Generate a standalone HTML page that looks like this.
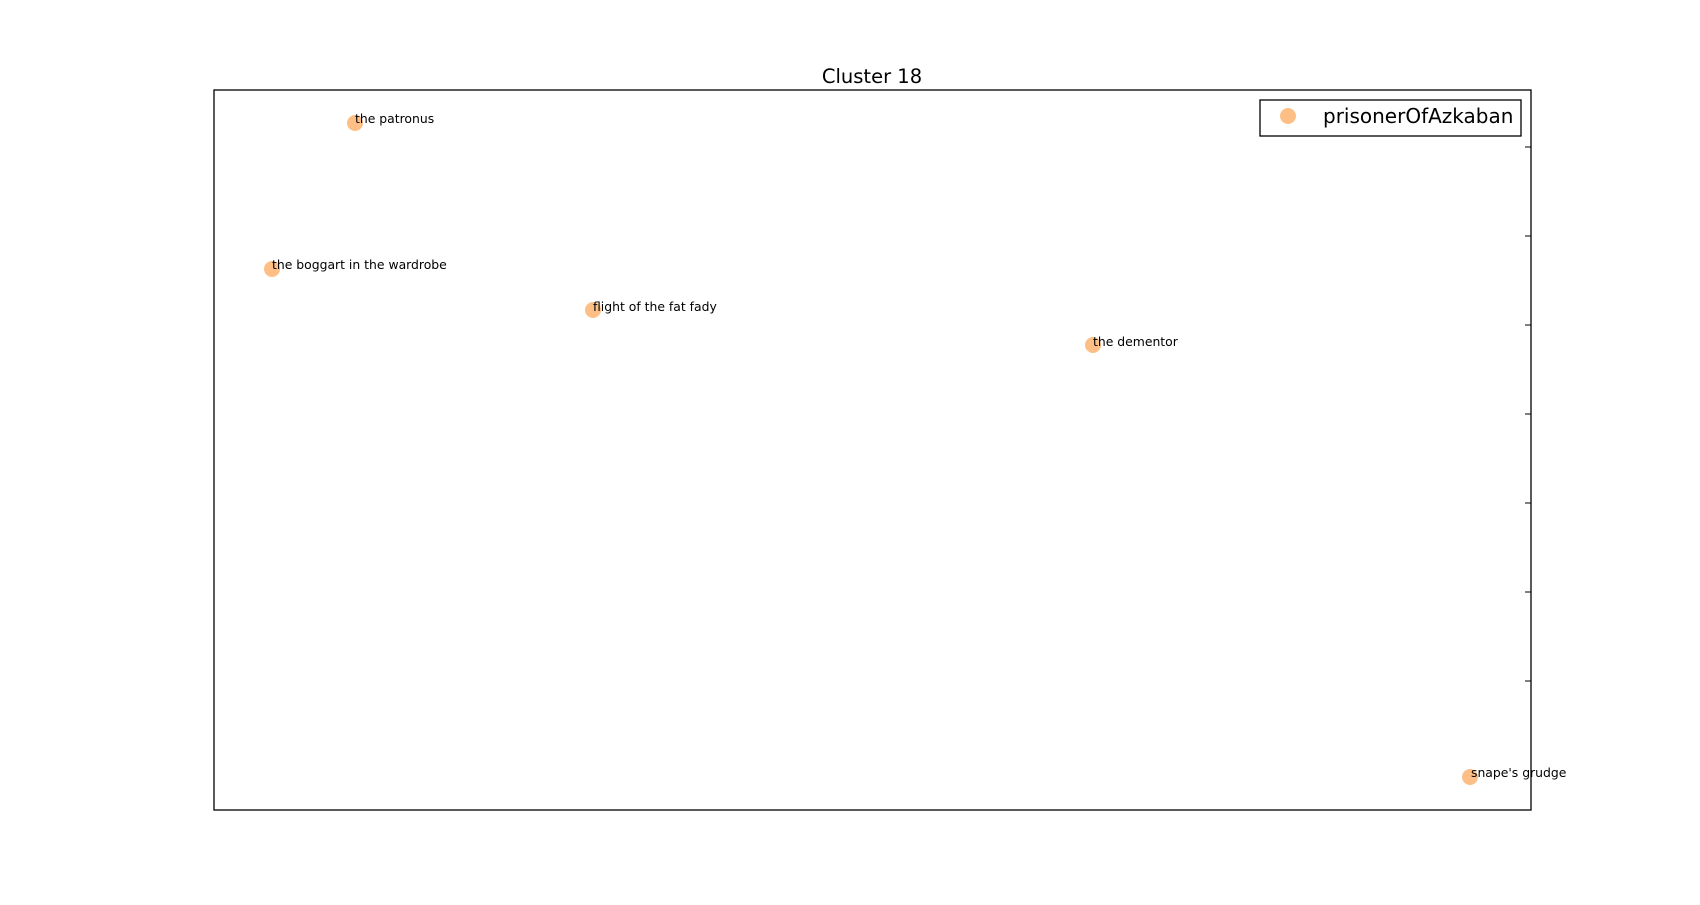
<!DOCTYPE html>
<html><head><style>body{margin:0;background:#fff}</style></head><body>
<svg width="1700" height="900" xmlns="http://www.w3.org/2000/svg" font-family="DejaVu Sans, sans-serif">
<rect width="1700" height="900" fill="#fff"/>
<text x="872" y="83" font-size="19.5" text-anchor="middle">Cluster 18</text>
<rect x="214" y="90" width="1317" height="720" fill="none" stroke="#000" stroke-width="1.3"/>
<g stroke="#000" stroke-width="1">
<line x1="1525" y1="147" x2="1531" y2="147"/><line x1="1525" y1="236" x2="1531" y2="236"/>
<line x1="1525" y1="325" x2="1531" y2="325"/><line x1="1525" y1="414" x2="1531" y2="414"/>
<line x1="1525" y1="503" x2="1531" y2="503"/><line x1="1525" y1="592" x2="1531" y2="592"/>
<line x1="1525" y1="681" x2="1531" y2="681"/>
</g>
<g fill="#fdbf86">
<circle cx="355" cy="123" r="8"/><circle cx="272" cy="269" r="8"/>
<circle cx="593" cy="310" r="8"/><circle cx="1093" cy="345" r="8"/>
<circle cx="1470" cy="777" r="8"/>
</g>
<g font-size="12.4" fill="#000">
<text x="355" y="123">the patronus</text>
<text x="272" y="269">the boggart in the wardrobe</text>
<text x="593" y="311">flight of the fat fady</text>
<text x="1093" y="346">the dementor</text>
<text x="1471" y="777">snape's grudge</text>
</g>
<rect x="1260" y="100" width="261" height="36" fill="#fff" stroke="#000" stroke-width="1.3"/>
<circle cx="1288" cy="116" r="8" fill="#fdbf86"/>
<text x="1323" y="123" font-size="20">prisonerOfAzkaban</text>
</svg>
</body></html>
